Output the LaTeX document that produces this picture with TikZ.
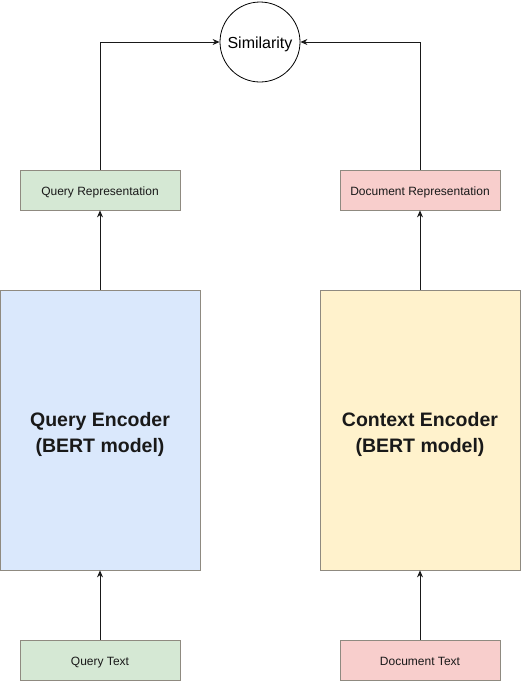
\documentclass[tikz,border=0pt]{standalone}
\usepackage{fontspec}
\setmainfont{Liberation Sans}
\usetikzlibrary{arrows.meta}
\definecolor{bordergray}{HTML}{8F8A80}
\definecolor{greenfill}{HTML}{D5E8D4}
\definecolor{redfill}{HTML}{F8CECC}
\definecolor{bluefill}{HTML}{DAE8FC}
\definecolor{yellowfill}{HTML}{FFF2CC}
\tikzset{
  smallbox/.style={draw=bordergray, line width=0.8pt, minimum width=160pt, minimum height=40pt, inner sep=0pt, text height=10pt, text depth=0pt, font=\fontsize{12pt}{14pt}\selectfont, text=black!90},
  encbox/.style={draw=bordergray, line width=0.8pt, minimum width=200pt, minimum height=280pt, inner sep=0pt, align=center, text height=44pt, text depth=0pt, font=\fontsize{19.5pt}{26pt}\selectfont\bfseries, text=black!90},
  conn/.style={draw=black!90, line width=0.8pt, -{Stealth[length=7pt,width=6pt]}},
}
\begin{document}
\begin{tikzpicture}[x=1pt,y=-1pt]
\useasboundingbox (0,0) rectangle (521,681);
\node[circle, draw=black, line width=0.8pt, minimum size=80pt, inner sep=0pt, text height=12pt, text depth=0pt, font=\fontsize{16pt}{18pt}\selectfont] (sim) at (260,42) {Similarity};
\node[smallbox, fill=greenfill] (qrep) at (100,190) {Query Representation};
\node[smallbox, fill=redfill] (drep) at (420,190) {Document Representation};
\node[encbox, fill=bluefill] (qenc) at (100,430) {Query Encoder\\(BERT model)};
\node[encbox, fill=yellowfill] (denc) at (420,430) {Context Encoder\\(BERT model)};
\node[smallbox, fill=greenfill] (qtxt) at (100,660) {Query Text};
\node[smallbox, fill=redfill] (dtxt) at (420,660) {Document Text};
\draw[conn] (qtxt) -- (qenc);
\draw[conn] (dtxt) -- (denc);
\draw[conn] (qenc) -- (qrep);
\draw[conn] (denc) -- (drep);
\draw[conn] (qrep.north) |- (sim.west);
\draw[conn] (drep.north) |- (sim.east);
\end{tikzpicture}
\end{document}
